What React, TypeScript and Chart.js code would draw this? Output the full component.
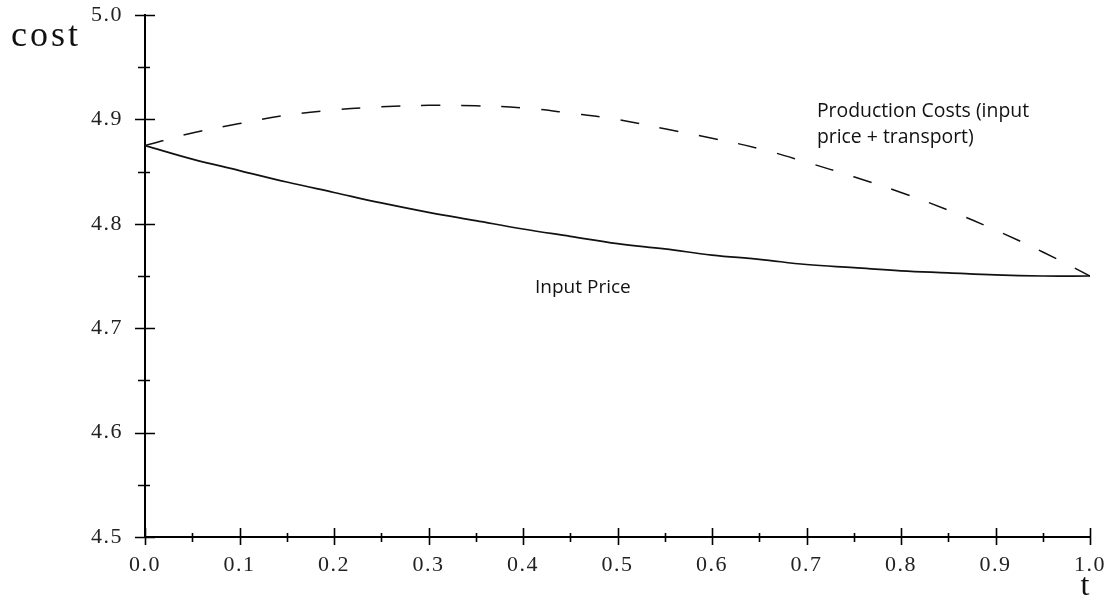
import React, { useEffect, useRef } from "react";
import { Chart, registerables } from "chart.js";

Chart.register(...registerables);

// ---- data ----
const tValues = [0, 0.05, 0.1, 0.15, 0.2, 0.25, 0.3, 0.35, 0.4, 0.45, 0.5, 0.55, 0.6, 0.65, 0.7, 0.75, 0.8, 0.85, 0.9, 0.95, 1.0];
const inputPrice = [4.875, 4.862, 4.851, 4.84, 4.83, 4.82, 4.811, 4.803, 4.795, 4.788, 4.781, 4.776, 4.77, 4.766, 4.761, 4.758, 4.755, 4.753, 4.751, 4.75, 4.75];
const productionCosts = [4.875, 4.887, 4.896, 4.904, 4.909, 4.912, 4.9135, 4.913, 4.911, 4.906, 4.9, 4.891, 4.882, 4.872, 4.859, 4.845, 4.83, 4.813, 4.794, 4.773, 4.75];
const xTickValues = [0, 0.05, 0.1, 0.15, 0.2, 0.25, 0.3, 0.35, 0.4, 0.45, 0.5, 0.55, 0.6, 0.65, 0.7, 0.75, 0.8, 0.85, 0.9, 0.95, 1.0];
const yTickValues = [4.5, 4.55, 4.6, 4.65, 4.7, 4.75, 4.8, 4.85, 4.9, 4.95, 5.0];
const yAxisTitle = "cost";
const xAxisTitle = "t";
const productionLabel = ["Production Costs (input", "price + transport)"];
const inputLabel = "Input Price";

const SERIF = '"Liberation Serif", "Times New Roman", serif';
const SANS = '"Open Sans", "Noto Sans", sans-serif';

const crossTicks = {
  id: "crossTicks",
  beforeDraw(chart: any) {
    chart.ctx.letterSpacing = "1.5px";
  },
  afterDraw(chart: any) {
    const { ctx, scales, chartArea } = chart;
    const x = scales.x;
    const y = scales.y;
    ctx.save();
    ctx.letterSpacing = "0px";
    ctx.strokeStyle = "#000";
    ctx.lineWidth = 1.6;
    ctx.beginPath();
    yTickValues.forEach((v, i) => {
      const py = Math.round(y.getPixelForValue(v)) + 0.5;
      const major = i % 2 === 0;
      ctx.moveTo(chartArea.left - (major ? 10 : 7), py);
      ctx.lineTo(chartArea.left + (major ? 10 : 5), py);
    });
    xTickValues.forEach((v, i) => {
      const px = Math.round(x.getPixelForValue(v)) + 0.5;
      const major = i % 2 === 0;
      ctx.moveTo(px, chartArea.bottom - (major ? 9 : 4));
      ctx.lineTo(px, chartArea.bottom + (major ? 8 : 5));
    });
    ctx.stroke();

    // axis titles
    ctx.fillStyle = "#111";
    ctx.textAlign = "left";
    ctx.textBaseline = "alphabetic";
    ctx.font = `36px ${SERIF}`;
    ctx.letterSpacing = "3px";
    ctx.fillText(yAxisTitle, 11, 46);
    ctx.letterSpacing = "0px";
    ctx.font = `32px ${SERIF}`;
    ctx.textAlign = "center";
    ctx.fillText(xAxisTitle, 1085, 595);

    // curve labels (anchored in data coordinates)
    ctx.textAlign = "left";
    ctx.font = `19.4px ${SANS}`;
    const px1 = x.getPixelForValue(0.711);
    const py1 = y.getPixelForValue(4.902);
    ctx.fillText(productionLabel[0], px1, py1);
    ctx.fillText(productionLabel[1], px1, py1 + 26);
    ctx.font = `19px ${SANS}`;
    ctx.fillText(inputLabel, x.getPixelForValue(0.4127), y.getPixelForValue(4.7334));
    ctx.restore();
  },
};

export default function App() {
  const ref = useRef<HTMLCanvasElement>(null);
  useEffect(() => {
    if (!ref.current) return;
    const chart = new Chart(ref.current, {
      type: "line",
      data: {
        datasets: [
          {
            label: "Input Price",
            data: tValues.map((t, i) => ({ x: t, y: inputPrice[i] })),
            borderColor: "#111",
            borderWidth: 1.7,
            pointRadius: 0,
            tension: 0.4,
            fill: false,
          },
          {
            label: "Production Costs",
            data: tValues.map((t, i) => ({ x: t, y: productionCosts[i] })),
            borderColor: "#111",
            borderWidth: 1.5,
            borderDash: [19, 21],
            pointRadius: 0,
            tension: 0.4,
            fill: false,
          },
        ],
      },
      options: {
        animation: false,
        responsive: false,
        devicePixelRatio: 1,
        layout: { padding: { top: 15, right: 26, left: 0, bottom: 0 } },
        plugins: { legend: { display: false }, tooltip: { enabled: false } },
        scales: {
          x: {
            type: "linear",
            min: 0,
            max: 1,
            afterFit: (s: any) => {
              s.height = 64;
              s.paddingLeft = 0;
              s.paddingRight = 0;
              s.paddingTop = 0;
              s.paddingBottom = 0;
            },
            grid: { display: false },
            border: { display: true, color: "#000", width: 2 },
            ticks: {
              stepSize: 0.1,
              autoSkip: false,
              maxRotation: 0,
              padding: 7,
              color: "#222",
              font: { family: SERIF, size: 22 },
              callback: (v: any) => Number(v).toFixed(1),
            },
          },
          y: {
            type: "linear",
            min: 4.5,
            max: 5.0,
            afterFit: (s: any) => {
              s.width = 145;
              s.paddingLeft = 0;
              s.paddingRight = 0;
              s.paddingTop = 0;
              s.paddingBottom = 0;
            },
            grid: { display: false },
            border: { display: true, color: "#000", width: 2 },
            ticks: {
              stepSize: 0.1,
              autoSkip: false,
              padding: 14,
              color: "#222",
              font: { family: SERIF, size: 22 },
              callback: (v: any) => Number(v).toFixed(1),
            },
          },
        },
      },
      plugins: [crossTicks],
    });
    return () => chart.destroy();
  }, []);
  return (
    <div style={{ position: "fixed", left: 0, top: 0, width: 1116, height: 601, background: "#fff" }}>
      <canvas ref={ref} width={1116} height={601} style={{ display: "block" }} />
    </div>
  );
}
